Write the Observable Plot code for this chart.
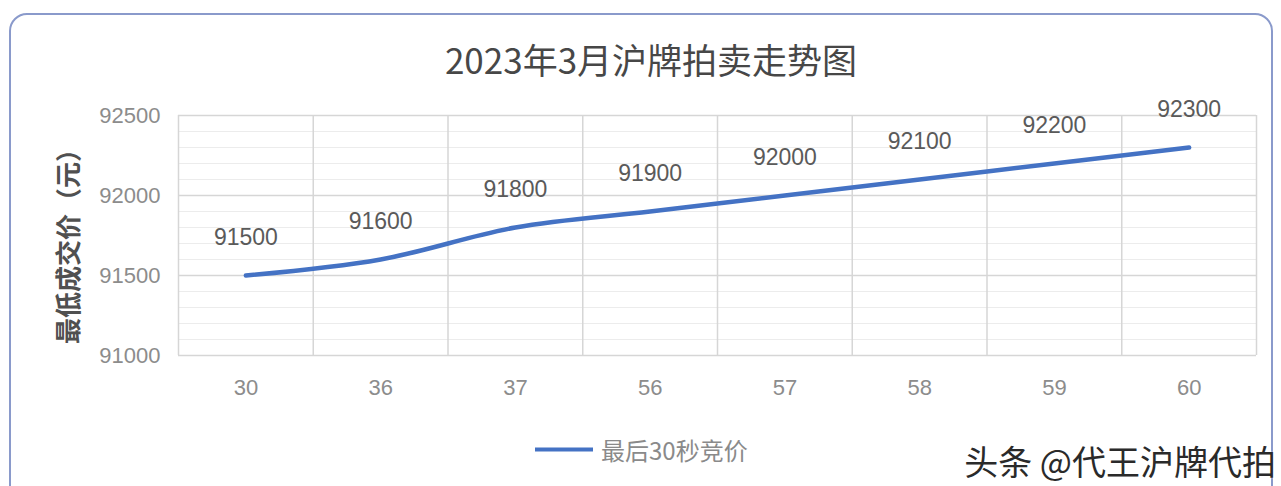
<!DOCTYPE html>
<html>
<head>
<meta charset="utf-8">
<script src="https://cdn.jsdelivr.net/npm/d3@7"></script>
<script src="https://cdn.jsdelivr.net/npm/@observablehq/plot@0.6"></script>
<style>
  html, body { margin: 0; padding: 0; background: #fff; }
  #wrap { position: relative; width: 1281px; height: 486px; overflow: hidden; background: #fff; }
  #frame { position: absolute; left: 9px; top: 13px; width: 1264px; height: 490px; border: 2px solid #8a9acb; border-radius: 18px; box-sizing: border-box; }
  #title { position: absolute; left: 651px; top: 58px; transform: translate(-50%, -50%); font-family: "Noto Sans CJK SC", sans-serif; font-size: 35px; color: #474747; white-space: nowrap; }
  #ylabel { position: absolute; left: 66px; top: 240px; transform: translate(-50%, -50%) rotate(-90deg); font-family: "Noto Sans CJK SC", sans-serif; font-size: 26px; font-weight: bold; color: #505050; white-space: nowrap; }
  #legend { position: absolute; left: 535px; top: 449px; transform: translateY(-50%); display: flex; align-items: center; font-family: "Noto Sans CJK SC", sans-serif; font-size: 24px; color: #8a8a8a; white-space: nowrap; }
  #legend .sw { width: 58px; height: 4px; background: #4472C4; margin-right: 8px; }
  #wm { position: absolute; right: 5px; top: 461px; transform: translateY(-50%); font-family: "Noto Sans CJK SC", sans-serif; font-size: 34px; line-height: 1.1; color: #2a2a2a; white-space: nowrap; text-shadow: 0 0 2px #fff; }
  #chart { position: absolute; left: 0; top: 0; }
</style>
</head>
<body>
<div id="wrap">
  <div id="frame"></div>
  <div id="chart"></div>
  <div id="title"></div>
  <div id="ylabel"></div>
  <div id="legend"><div class="sw"></div><span id="legtext"></span></div>
  <div id="wm"></div>
</div>
<script>
const titleText = "2023年3月沪牌拍卖走势图";
const yLabelText = "最低成交价（元）";
const seriesName = "最后30秒竞价";
const watermark = "头条 @代王沪牌代拍";
const seconds = ["30", "36", "37", "56", "57", "58", "59", "60"];
const prices = [91500, 91600, 91800, 91900, 92000, 92100, 92200, 92300];
const yTicks = [91000, 91500, 92000, 92500];
const yMinorStep = 100;

document.getElementById("title").textContent = titleText;
document.getElementById("ylabel").textContent = yLabelText;
document.getElementById("legtext").textContent = seriesName;
document.getElementById("wm").textContent = watermark;

const data = seconds.map((s, i) => ({i, s, price: prices[i]}));
const minor = d3.range(yTicks[0], yTicks[yTicks.length - 1] + 1, yMinorStep).filter(v => !yTicks.includes(v));
const bounds = d3.range(seconds.length + 1).map(k => k - 0.5);

const chart = Plot.plot({
  width: 1281,
  height: 486,
  marginTop: 115,
  marginBottom: 131,
  marginLeft: 178,
  marginRight: 25,
  x: {type: "linear", domain: [-0.5, seconds.length - 0.5]},
  y: {domain: [yTicks[0], yTicks[yTicks.length - 1]]},
  style: {fontFamily: "'Liberation Sans', 'Noto Sans CJK SC', sans-serif", background: "transparent", overflow: "visible"},
  marks: [
    Plot.ruleY(minor, {stroke: "#ececec", strokeWidth: 1.2}),
    Plot.ruleY(yTicks, {stroke: "#d6d6d6", strokeWidth: 1.5}),
    Plot.ruleX(bounds, {stroke: "#d6d6d6", strokeWidth: 1.5}),
    Plot.axisY({ticks: yTicks, tickSize: 0, tickPadding: 18, fontSize: 22, fill: "#8c8c8c", tickFormat: d => String(d), label: null}),
    Plot.axisX({ticks: d3.range(seconds.length), tickSize: 0, tickPadding: 24, fontSize: 22, fill: "#8c8c8c", tickFormat: i => seconds[i], label: null}),
    Plot.line(data, {x: "i", y: "price", stroke: "#4472C4", strokeWidth: 4.5, curve: "catmull-rom"}),
    Plot.text(data, {x: "i", y: "price", text: d => String(d.price), dy: -38, fontSize: 23, fill: "#5a5a5a"})
  ]
});
document.getElementById("chart").appendChild(chart);
</script>
</body>
</html>
